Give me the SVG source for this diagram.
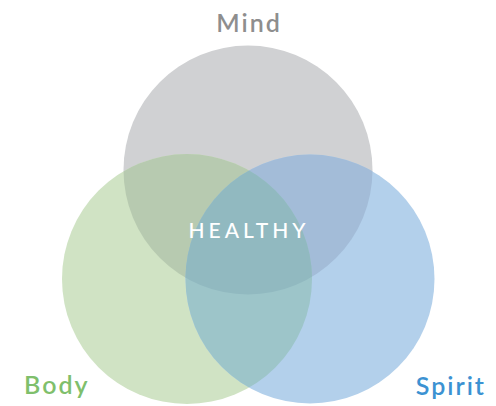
<svg xmlns="http://www.w3.org/2000/svg" width="496" height="406" viewBox="0 0 496 406">
<defs>
<clipPath id="cMind"><circle cx="248" cy="170" r="124.5"/></clipPath>
<clipPath id="cBody"><circle cx="187" cy="279" r="125"/></clipPath>
</defs>
<style>
.lbl{font-family:Lato,"Open Sans","Liberation Sans",sans-serif;font-weight:600;font-size:25px;letter-spacing:2px}
</style>
<rect width="496" height="406" fill="#ffffff"/>
<g id="mind"><circle cx="248" cy="170" r="124.5" fill="#d0d1d3"/></g>
<g id="body"><circle cx="187" cy="279" r="125" fill="#d0e3c4"/></g>
<g id="spirit"><circle cx="310" cy="279" r="124.5" fill="#b3d0eb"/></g>
<g id="overlaps">
<circle cx="187" cy="279" r="125" fill="#b7cab0" clip-path="url(#cMind)"/>
<circle cx="310" cy="279" r="124.5" fill="#a3bcd8" clip-path="url(#cMind)"/>
<circle cx="310" cy="279" r="124.5" fill="#9dc5c9" clip-path="url(#cBody)"/>
<g clip-path="url(#cMind)"><circle cx="310" cy="279" r="124.5" fill="#91b9c0" clip-path="url(#cBody)"/></g>
</g>
<g id="connectors"/>
<g id="labels">
<text class="lbl" x="249" y="32" text-anchor="middle" fill="#8e8e8e">Mind</text>
<text class="lbl" x="24" y="394" fill="#7fbf6c">Body</text>
<text class="lbl" x="486" y="395" text-anchor="end" fill="#3c92d2">Spirit</text>
<text x="249" y="238" text-anchor="middle" fill="#ffffff" style="font-family:Lato,'Open Sans','Liberation Sans',sans-serif;font-size:21px;font-weight:500;letter-spacing:4px">HEALTHY</text>
</g>
</svg>
